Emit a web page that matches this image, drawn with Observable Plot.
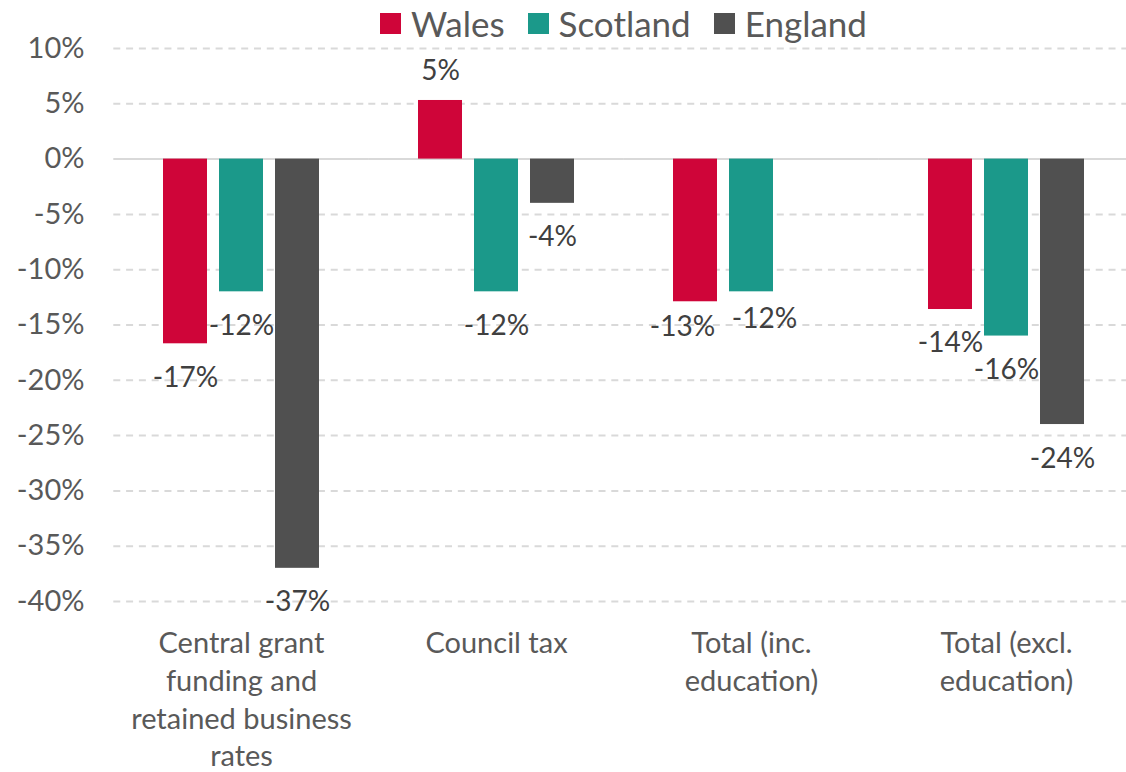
<!DOCTYPE html>
<html>
<head>
<meta charset="utf-8">
<script src="https://cdn.jsdelivr.net/npm/d3@7"></script>
<script src="https://cdn.jsdelivr.net/npm/@observablehq/plot@0.6"></script>
<style>
  html, body { margin: 0; padding: 0; background: #fff; overflow: hidden; }
  #wrap { position: relative; width: 1126px; height: 772px; overflow: hidden; font-family: Lato, "Open Sans", sans-serif; }
  #legend { position: absolute; top: 0; left: 112px; width: 1023px; height: 46px; display: flex; justify-content: center; align-items: center; gap: 23px; font-size: 35px; color: #595959; z-index: 2; }
  .item { display: flex; align-items: center; gap: 10px; }
  .sw { width: 21px; height: 21px; display: inline-block; }
  #chart svg { max-width: none !important; }
</style>
</head>
<body>
<div id="wrap"><div id="legend"></div><div id="chart"></div></div>
<script>
const categories = ["Central grant funding and retained business rates", "Council tax", "Total (inc. education)", "Total (excl. education)"];
const categoryLabels = ["Central grant\nfunding and\nretained business\nrates", "Council tax", "Total (inc.\neducation)", "Total (excl.\neducation)"];
const countries = ["Wales", "Scotland", "England"];
const colors = ["#CF0539", "#1B998A", "#505050"];
const wales = [-16.7, 5.3, -12.9, -13.6];
const scotland = [-12.0, -12.0, -12.0, -16.0];
const england = [-37.0, -4.0, null, -24.0];
const yTicks = [10, 5, 0, -5, -10, -15, -20, -25, -30, -35, -40];

const series = {Wales: wales, Scotland: scotland, England: england};
const data = [];
categories.forEach((c, i) => {
  countries.forEach(k => {
    const v = series[k][i];
    if (v !== null) data.push({category: c, country: k, value: v});
  });
});
const labelOf = Object.fromEntries(categories.map((c, i) => [c, categoryLabels[i]]));
const fmt = d => Math.round(d.value) + "%";

const legend = document.getElementById("legend");
countries.forEach((k, i) => {
  const it = document.createElement("div");
  it.className = "item";
  it.innerHTML = `<span class="sw" style="background:${colors[i]}"></span><span>${k}</span>`;
  legend.appendChild(it);
});

// label groups (Excel nudges the crowded pair in the third group apart)
const crowded = categories[2];
const negNormal = data.filter(d => d.value < 0 && d.category !== crowded);
const negCrowdL = data.filter(d => d.value < 0 && d.category === crowded && d.country === "Wales");
const negCrowdR = data.filter(d => d.value < 0 && d.category === crowded && d.country !== "Wales");
const pos = data.filter(d => d.value >= 0);
const lab = {fx: "category", x: "country", y: "value", text: fmt, fontSize: 28, fill: "#404040"};

const ext = -42.7;
const chart = Plot.plot({
  width: 1135,
  height: 772,
  marginTop: 48,
  marginBottom: 171,
  marginLeft: 112,
  marginRight: 0,
  style: {fontFamily: "Lato, 'Open Sans', sans-serif", background: "#fff", overflow: "visible", maxWidth: "none"},
  fx: {domain: categories, paddingInner: 0.332, paddingOuter: 0.166, label: null},
  x: {domain: countries, paddingInner: 0.21, paddingOuter: 0.105, axis: null},
  y: {domain: [-40, 10], label: null},
  color: {domain: countries, range: colors},
  marks: [
    Plot.ruleY(yTicks.filter(t => t !== 0), {stroke: "#D9D9D9", strokeWidth: 2, strokeDasharray: "7,5.79", insetLeft: ext, insetRight: ext}),
    Plot.ruleY([0], {stroke: "#D9D9D9", strokeWidth: 2, insetLeft: ext, insetRight: ext}),
    Plot.barY(data, {fx: "category", x: "country", y: "value", fill: "country"}),
    Plot.text(negNormal, {...lab, dy: 34}),
    Plot.text(negCrowdL, {...lab, dy: 25, dx: -13}),
    Plot.text(negCrowdR, {...lab, dy: 27, dx: 13}),
    Plot.text(pos, {...lab, dy: -29}),
    Plot.axisY({ticks: yTicks, tickFormat: d => d + "%", tickSize: 0, tickPadding: 72, fontSize: 29, fill: "#595959", label: null}),
    Plot.axisFx({anchor: "bottom", tickSize: 0, tickPadding: 25, fontSize: 29, fill: "#595959", lineHeight: 1.3, tickFormat: c => labelOf[c], label: null})
  ]
});
document.getElementById("chart").appendChild(chart);
</script>
</body>
</html>
